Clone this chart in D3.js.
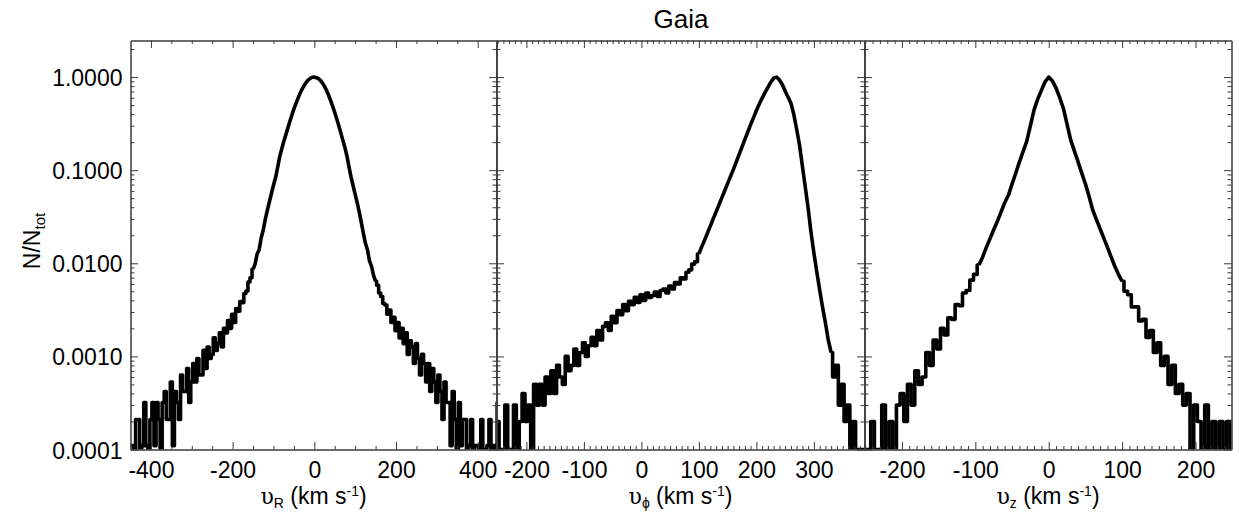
<!DOCTYPE html>
<html>
<head>
<meta charset="utf-8">
<script src="https://cdn.jsdelivr.net/npm/d3@7"></script>
<style>
body { margin: 0; background: #fff; }
text { font-family: "Liberation Sans", Arial, Helvetica, sans-serif; fill: #000; }
</style>
</head>
<body>
<script>
// Histogram bins (km/s): first bin centre of each panel, 5 km/s wide
var binStep = 5
var vRStart = -450, vPhiStart = -250, vZStart = -250

// N/Ntot per bin (0 = empty bin)
var vRValues = [
  1.1e-4, 1.1e-4, 0, 2.1e-4, 2.1e-4, 0, 1.1e-4, 3.2e-4, 1.1e-4, 0,
  2.1e-4, 3.2e-4, 1.1e-4, 3.2e-4, 2.1e-4, 0, 3.2e-4, 4.2e-4, 2.1e-4, 2.1e-4,
  5.3e-4, 1.1e-4, 4.2e-4, 3.2e-4, 2.1e-4, 6.3e-4, 4.2e-4, 4.2e-4, 7.4e-4, 3.2e-4,
  5.3e-4, 8.4e-4, 5.3e-4, 9.5e-4, 6.3e-4, 6.3e-4, 1.16e-3, 7.4e-4, 1.26e-3, 9.5e-4,
  1.05e-3, 1.58e-3, 1.16e-3, 1.37e-3, 1.79e-3, 1.26e-3, 2.0e-3, 1.79e-3, 2.42e-3, 2.0e-3,
  2.84e-3, 2.31e-3, 3.26e-3, 3.05e-3, 3.89e-3, 3.78e-3, 4.73e-3, 5.04e-3, 6.3e-3, 7.0e-3,
  8.6e-3,
  0.0098, 0.0126, 0.0141, 0.0188, 0.0228, 0.0297, 0.0371, 0.0458, 0.0561, 0.0689,
  0.0828, 0.106, 0.138, 0.168, 0.202, 0.238, 0.282, 0.333, 0.389, 0.455,
  0.518, 0.590, 0.667, 0.741, 0.811, 0.877, 0.929, 0.968, 0.995, 1.0,
  0.985, 0.960, 0.920, 0.863, 0.794, 0.716, 0.637, 0.558, 0.483, 0.417,
  0.355, 0.299, 0.250, 0.209, 0.174, 0.141, 0.108, 0.084, 0.068, 0.055,
  0.0447, 0.0355, 0.0275, 0.0211, 0.0165, 0.0140, 0.0106, 0.0093, 0.0074,
  6.4e-3, 5.8e-3, 4.8e-3, 4.4e-3, 3.7e-3, 3.57e-3, 2.84e-3, 3.15e-3, 2.31e-3, 2.63e-3,
  1.89e-3, 2.31e-3, 1.58e-3, 2.0e-3, 1.37e-3, 1.79e-3, 1.05e-3, 1.47e-3, 1.26e-3, 8.4e-4,
  1.37e-3, 9.5e-4, 6.3e-4, 1.05e-3, 8.4e-4, 5.3e-4, 8.4e-4, 4.2e-4, 7.4e-4, 5.3e-4,
  3.2e-4, 6.3e-4, 4.2e-4, 2.1e-4, 5.3e-4, 3.2e-4, 3.2e-4, 1.1e-4, 4.2e-4, 2.1e-4,
  0, 3.2e-4, 1.1e-4, 2.1e-4, 2.1e-4, 0, 1.1e-4, 2.1e-4, 0, 1.1e-4,
  1.1e-4, 0, 2.1e-4, 0, 0, 1.1e-4, 2.1e-4, 0, 1.1e-4, 0,
  3.2e-4
]

var vPhiValues = [
  2e-4, 1e-4, 0, 3e-4, 1e-4, 1e-4, 3e-4, 0, 2e-4, 4e-4,
  2e-4, 3e-4, 1e-4, 5e-4, 3e-4, 5e-4, 3e-4, 6e-4, 4e-4, 7e-4,
  4e-4, 8e-4, 6e-4, 5e-4, 1.0e-3, 7e-4, 8e-4, 1.2e-3, 8e-4, 1.1e-3,
  1.4e-3, 1.0e-3, 1.3e-3, 1.6e-3, 1.3e-3, 1.9e-3, 1.5e-3, 2.1e-3, 2.3e-3, 1.9e-3,
  2.7e-3, 2.3e-3, 3.1e-3, 2.8e-3, 3.6e-3, 3.1e-3, 3.9e-3, 3.6e-3, 4.3e-3, 3.8e-3,
  4.6e-3, 4.0e-3, 4.8e-3, 4.3e-3, 4.5e-3, 4.9e-3, 4.4e-3, 5.1e-3, 5.3e-3, 4.8e-3,
  5.7e-3, 5.3e-3, 6.2e-3, 6.0e-3, 7.0e-3, 6.8e-3, 8.0e-3, 8.5e-3, 9.8e-3, 1.04e-2,
  0.0126, 0.0151, 0.0178, 0.0212, 0.0252, 0.0302, 0.0358, 0.0427, 0.0508, 0.0605,
  0.0721, 0.0859, 0.102, 0.123, 0.148, 0.178, 0.214, 0.257, 0.309, 0.367,
  0.437, 0.513, 0.594, 0.684, 0.776, 0.881, 0.973, 1.0, 0.933, 0.832,
  0.708, 0.610, 0.525, 0.398, 0.275, 0.186, 0.110, 0.066, 0.039, 0.0214,
  0.0129, 0.0081, 0.0052, 0.0034, 0.0023, 0.0015, 0.0011, 6e-4, 8e-4, 3e-4,
  5e-4, 2e-4, 3e-4, 1e-4, 2e-4, 0, 0, 0, 0
]

var vZValues = [
  0, 1e-4, 2e-4, 0, 1e-4, 3e-4, 1e-4, 2e-4, 0, 3e-4,
  4e-4, 2e-4, 5e-4, 3e-4, 7e-4, 5e-4, 6e-4, 1.1e-3, 8e-4, 1.5e-3,
  1.2e-3, 2.0e-3, 1.7e-3, 2.6e-3, 2.5e-3, 3.6e-3, 3.5e-3, 4.8e-3, 5.1e-3, 6.6e-3,
  7.6e-3, 9.6e-3,
  0.0117, 0.0148, 0.0184, 0.0229, 0.0282, 0.0355, 0.0447, 0.0537, 0.0708, 0.0927,
  0.122, 0.158, 0.204, 0.300, 0.445, 0.58, 0.72, 0.89, 1.0, 0.91,
  0.76, 0.60, 0.46, 0.31, 0.21, 0.16, 0.123, 0.093, 0.071, 0.052,
  0.0372, 0.0295, 0.0234, 0.0186, 0.0148, 0.0117, 0.0093, 0.0076,
  6.4e-3, 5.0e-3, 4.6e-3, 3.4e-3, 3.4e-3, 2.4e-3, 2.5e-3, 1.6e-3, 1.9e-3, 1.1e-3,
  1.4e-3, 8e-4, 1.0e-3, 5e-4, 8e-4, 4e-4, 5e-4, 3e-4, 4e-4, 1e-4,
  3e-4, 2e-4, 0, 3e-4, 1e-4, 2e-4, 0, 2e-4, 1e-4, 2e-4,
  0
]

// Velocity range of the well-sampled core (drawn smooth); tails are drawn as steps
var coreR = [-150, 150], corePhi = [100, 330], coreZ = [-95, 100]

// Tick labels
var xTicksR = [-400, -200, 0, 200, 400]
var xTicksPhi = [-200, -100, 0, 100, 200, 300]
var xTicksZ = [-200, -100, 0, 100, 200]
var yTickValues = [1e-4, 1e-3, 1e-2, 1e-1, 1]
var yTickLabels = ["0.0001", "0.0010", "0.0100", "0.1000", "1.0000"]

// Layout
var plotTop = 40.5, plotBottom = 449.5
var majorLen = 7.5, minorLen = 3.5
var axisColor = "#3a3a3a"

var svg = d3.select("body")
    .append("svg")
        .attr("width", 1239)
        .attr("height", 512)

var y = d3.scaleLog().domain([1e-4, 2.47]).range([plotBottom, plotTop]).clamp(true)

// minor log ticks 2..9 of each decade
var yMinor = []
for (var e = -4; e <= 0; e++) {
  for (var m = 2; m <= 9; m++) {
    var v = m * Math.pow(10, e)
    if (v < y.domain()[1]) yMinor.push(v)
  }
}

var panels = [
  {id: "r", values: vRValues, start: vRStart, core: coreR, domain: [-450, 446], left: 130.5, right: 496.5,
   major: xTicksR, minorStep: 50, sub: "R"},
  {id: "phi", values: vPhiValues, start: vPhiStart, core: corePhi, domain: [-252, 388], left: 496.5, right: 864.5,
   major: xTicksPhi, minorStep: 10, sub: "\u03D5"},
  {id: "z", values: vZValues, start: vZStart, core: coreZ, domain: [-251, 249], left: 864.5, right: 1231.5,
   major: xTicksZ, minorStep: 10, sub: "z"}
]

function styleAxis(g) {
  g.select(".domain").attr("stroke", axisColor).attr("stroke-width", 1)
  g.selectAll(".tick line").attr("stroke", axisColor).attr("stroke-width", 1)
  g.selectAll(".tick text").attr("font-size", 23).attr("font-family", "Liberation Sans, Arial, sans-serif")
}

panels.forEach(function(p, k) {
  var x = d3.scaleLinear().domain(p.domain).range([p.left, p.right])
  var xMinor = d3.range(Math.ceil(p.domain[0] / p.minorStep) * p.minorStep, p.domain[1], p.minorStep)
      .filter(d => p.major.indexOf(d) < 0 && d > p.domain[0] && d < p.domain[1])

  // clip region of the panel
  svg.append("clipPath")
      .attr("id", "clip-" + p.id)
    .append("rect")
      .attr("x", p.left).attr("y", plotTop)
      .attr("width", p.right - p.left).attr("height", plotBottom - plotTop)

  var bins = p.values.map((d, i) => ({v: p.start + i * binStep, n: d}))
  var parts = [
    {data: bins.filter(d => d.v <= p.core[0]), curve: d3.curveStep},
    {data: bins.filter(d => d.v >= p.core[0] && d.v <= p.core[1]), curve: d3.curveLinear},
    {data: bins.filter(d => d.v >= p.core[1]), curve: d3.curveStep}
  ]

  parts.forEach(function(part) {
    var line = d3.line()
        .x(d => x(d.v))
        .y(d => y(d.n))
        .curve(part.curve)
    svg.append("path")
        .datum(part.data)
        .attr("clip-path", "url(#clip-" + p.id + ")")
        .attr("fill", "none")
        .attr("stroke", "#000")
        .attr("stroke-width", 3.6)
        .attr("stroke-linejoin", "round")
        .attr("d", line)
  })

  // bottom axis with labels, top axis without
  svg.append("g")
      .attr("transform", "translate(0," + plotBottom + ")")
      .call(d3.axisBottom(x).tickValues(xMinor).tickSizeInner(-minorLen).tickSizeOuter(0).tickFormat(""))
      .call(styleAxis)
  svg.append("g")
      .attr("transform", "translate(0," + plotBottom + ")")
      .call(d3.axisBottom(x).tickValues(p.major).tickSizeInner(-majorLen).tickSizeOuter(0)
            .tickPadding(12).tickFormat(d => String(d)))
      .call(styleAxis)
  svg.append("g")
      .attr("transform", "translate(0," + plotTop + ")")
      .call(d3.axisTop(x).tickValues(xMinor).tickSizeInner(-minorLen).tickSizeOuter(0).tickFormat(""))
      .call(styleAxis)
  svg.append("g")
      .attr("transform", "translate(0," + plotTop + ")")
      .call(d3.axisTop(x).tickValues(p.major).tickSizeInner(-majorLen).tickSizeOuter(0).tickFormat(""))
      .call(styleAxis)

  // left and right log axes
  svg.append("g")
      .attr("transform", "translate(" + p.left + ",0)")
      .call(d3.axisLeft(y).tickValues(yMinor).tickSizeInner(-4).tickSizeOuter(0).tickFormat(""))
      .call(styleAxis)
  var yMajor = svg.append("g")
      .attr("transform", "translate(" + p.left + ",0)")
      .call(d3.axisLeft(y).tickValues(yTickValues).tickSizeInner(-majorLen).tickSizeOuter(0)
            .tickPadding(8).tickFormat((d, i) => k == 0 ? yTickLabels[i] : ""))
      .call(styleAxis)
  yMajor.selectAll(".tick text").attr("dy", "0.37em")
  svg.append("g")
      .attr("transform", "translate(" + p.right + ",0)")
      .call(d3.axisRight(y).tickValues(yMinor).tickSizeInner(-4).tickSizeOuter(0).tickFormat(""))
      .call(styleAxis)
  svg.append("g")
      .attr("transform", "translate(" + p.right + ",0)")
      .call(d3.axisRight(y).tickValues(yTickValues).tickSizeInner(-majorLen).tickSizeOuter(0).tickFormat(""))
      .call(styleAxis)

  // axis title: upsilon_sub (km s^-1)
  var t = svg.append("text")
      .attr("x", (p.left + p.right) / 2)
      .attr("y", 504)
      .attr("text-anchor", "middle")
      .attr("font-size", 23)
  t.append("tspan").attr("font-family", "DejaVu Serif, serif").attr("font-size", 22).text("\u03C5")
  t.append("tspan").attr("font-size", 14).attr("dy", 4).text(p.sub)
  t.append("tspan").attr("dy", -4).text(" (km s")
  t.append("tspan").attr("font-size", 14).attr("dy", -8).text("-1")
  t.append("tspan").attr("dy", 8).text(")")
})

// y axis title
var yt = svg.append("text")
    .attr("transform", "translate(40,241) rotate(-90)")
    .attr("text-anchor", "middle")
    .attr("font-size", 23)
yt.append("tspan").text("N/N")
yt.append("tspan").attr("font-size", 15).attr("dy", 5).text("tot")

// title
svg.append("text")
    .attr("x", 681)
    .attr("y", 28)
    .attr("text-anchor", "middle")
    .attr("font-size", 26)
    .text("Gaia")
</script>
</body>
</html>
